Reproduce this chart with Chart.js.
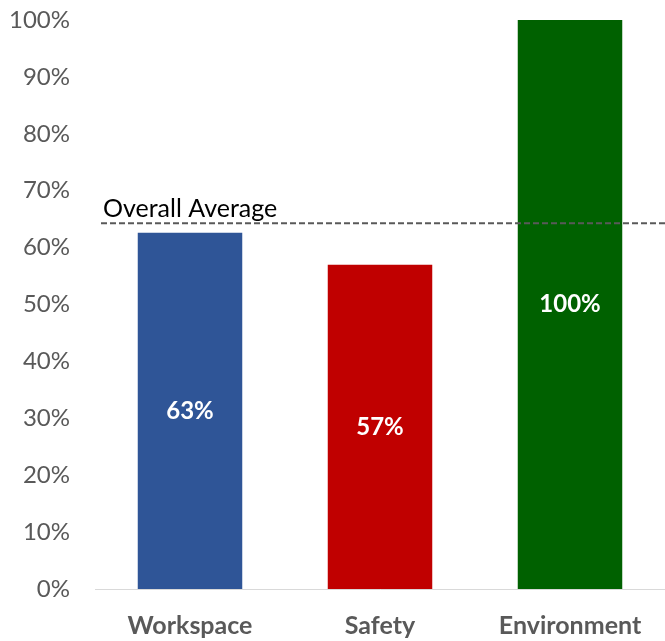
<!DOCTYPE html>
<html>
<head>
<meta charset="utf-8">
<script src="https://cdn.jsdelivr.net/npm/chart.js@4"></script>
<style>
  html, body { margin: 0; padding: 0; background: #fff; }
  #wrap { width: 665px; height: 641px; }
</style>
</head>
<body>
<div id="wrap"><canvas id="scoreChart"></canvas></div>
<script>
var categories = ["Workspace", "Safety", "Environment"];
var scores = [62.6, 57, 100];
var scoreLabels = ["63%", "57%", "100%"];
var barColors = ['#2f5597', '#c00000', '#006100'];
var overallAverage = 64.3;
var yTicks = [0, 10, 20, 30, 40, 50, 60, 70, 80, 90, 100];

var fontFamily = 'Lato, "Open Sans", sans-serif';

// white labels in the middle of each bar
var barLabels = {
  id: 'barLabels',
  afterDatasetsDraw: function (chart) {
    var ctx = chart.ctx;
    var meta = chart.getDatasetMeta(0);
    ctx.save();
    ctx.fillStyle = '#ffffff';
    ctx.font = 'bold 24px ' + fontFamily;
    ctx.textAlign = 'center';
    ctx.textBaseline = 'middle';
    meta.data.forEach(function (bar, i) {
      var mid = (bar.y + bar.base) / 2;
      ctx.fillText(scoreLabels[i], bar.x, mid);
    });
    ctx.restore();
  }
};

// dashed overall average line
var averageLine = {
  id: 'averageLine',
  afterDatasetsDraw: function (chart) {
    var ctx = chart.ctx;
    var y = chart.scales.y.getPixelForValue(overallAverage);
    var area = chart.chartArea;
    ctx.save();
    ctx.strokeStyle = '#595959';
    ctx.lineWidth = 2;
    ctx.setLineDash([6, 3]);
    ctx.beginPath();
    ctx.moveTo(area.left + 6, y);
    ctx.lineTo(area.right, y);
    ctx.stroke();
    ctx.setLineDash([]);
    ctx.fillStyle = '#000000';
    ctx.font = '25px ' + fontFamily;
    ctx.textAlign = 'left';
    ctx.textBaseline = 'bottom';
    ctx.fillText('Overall Average', area.left + 8, y - 2);
    ctx.restore();
  }
};

new Chart(document.getElementById('scoreChart').getContext('2d'), {
  type: 'bar',
  data: {
    labels: categories,
    datasets: [{
      data: scores,
      backgroundColor: barColors,
      borderWidth: 0,
      categoryPercentage: 1,
      barPercentage: 0.55
    }]
  },
  options: {
    responsive: true,
    maintainAspectRatio: false,
    animation: false,
    layout: { padding: { top: 20, right: 0, bottom: -22, left: 0 } },
    plugins: {
      legend: { display: false },
      tooltip: { enabled: false }
    },
    scales: {
      x: {
        grid: { display: false, drawTicks: false },
        border: { display: true, color: '#d9d9d9', width: 1 },
        ticks: {
          color: '#595959',
          padding: 22,
          font: { family: fontFamily, size: 25, weight: 'bold' }
        }
      },
      y: {
        min: 0,
        max: 100,
        afterFit: function (scale) {
          scale.width = 95;
          scale.paddingTop = 0;
          scale.paddingBottom = 0;
        },
        afterBuildTicks: function (scale) {
          scale.ticks = yTicks.map(function (v) { return { value: v }; });
        },
        grid: { display: false, drawTicks: false },
        border: { display: false },
        ticks: {
          color: '#595959',
          padding: 25,
          font: { family: fontFamily, size: 24 },
          callback: function (v) { return v + '%'; }
        }
      }
    }
  },
  plugins: [barLabels, averageLine]
});
</script>
</body>
</html>
